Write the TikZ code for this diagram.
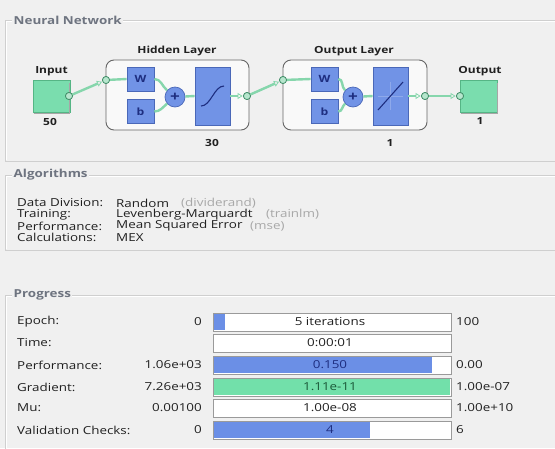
\documentclass[tikz,border=0pt]{standalone}
\usepackage{fontspec}
\setmainfont{Open Sans}[FakeStretch=1.22]
\usetikzlibrary{arrows.meta}
\definecolor{bg}{HTML}{F0F0F0}
\definecolor{framec}{HTML}{CFCFCF}
\definecolor{titlec}{HTML}{6E7480}
\definecolor{greenfill}{HTML}{7ADDAE}
\definecolor{greenedge}{HTML}{55B585}
\definecolor{bluefill}{HTML}{7193E6}
\definecolor{blueedge}{HTML}{4A68B8}
\definecolor{wire}{HTML}{86D6AC}
\definecolor{wireedge}{HTML}{4FAF80}
\definecolor{barblue}{HTML}{6B8FE6}
\definecolor{bargreen}{HTML}{72E0AA}
\definecolor{baredge}{HTML}{9A9A9A}
\definecolor{graytext}{HTML}{A8A8A8}
\definecolor{darkblue}{HTML}{1E2E80}
\definecolor{darkgreen}{HTML}{1C5A3A}
\definecolor{textc}{HTML}{202020}
\tikzset{
  paneltitle/.style={font=\bfseries\fontsize{11}{13}\selectfont, text=titlec, fill=bg, inner sep=1.5pt, anchor=west},
  panelframe/.style={draw=framec, line width=0.8pt},
  netlabel/.style={font=\bfseries\fontsize{9.8}{11}\selectfont, text=textc, inner sep=0pt},
  iobox/.style={draw=greenedge, fill=greenfill, line width=0.8pt, minimum width=37pt, minimum height=32pt, inner sep=0pt},
  layerbox/.style={draw=gray!80!black, fill=white!60!bg, line width=0.9pt, rounded corners=8pt},
  wbbox/.style={draw=blueedge, fill=bluefill, line width=0.7pt, minimum width=27pt, minimum height=24pt, inner sep=0pt, font=\bfseries\fontsize{10}{11}\selectfont, text=darkblue},
  actbox/.style={draw=blueedge, fill=bluefill, line width=0.7pt, minimum width=35pt, minimum height=58pt, inner sep=0pt},
  plusnode/.style={circle, draw=blueedge, fill=bluefill, line width=0.7pt, minimum size=20pt, inner sep=0pt, font=\bfseries\fontsize{14}{14}\selectfont, text=darkblue},
  port/.style={circle, draw=wireedge!80!black, fill=wire!60!white, line width=0.7pt, minimum size=7pt, inner sep=0pt},
  wirestyle/.style={draw=wire, line width=2.4pt},
  arrowwire/.style={wirestyle, -{Triangle[open, length=5pt, width=6pt, line width=0.8pt]}, shorten >=0.5pt},
  txt/.style={font=\fontsize{11}{12}\selectfont, text=textc, inner sep=0pt, anchor=west},
  gtxt/.style={font=\fontsize{11}{12}\selectfont, text=graytext, inner sep=0pt, anchor=west},
  rtxt/.style={font=\fontsize{11}{12}\selectfont, text=textc, inner sep=0pt, anchor=east},
  ctxt/.style={font=\fontsize{11}{12}\selectfont, text=textc, inner sep=0pt},
  bar/.style={draw=baredge, fill=white, line width=0.8pt},
  shade/.style={draw=gray!70, line width=1pt},
}
\begin{document}
\begin{tikzpicture}[x=1pt,y=-1pt]
\useasboundingbox (0,0) rectangle (555,448);
\fill[bg] (0,0) rectangle (555,448);

% ---------- panel frames ----------
\draw[panelframe] (560,20) -- (5,20) -- (5,161) -- (560,161);
\draw[white, line width=0.8pt] (560,21) -- (6,21) -- (6,160);
\node[paneltitle] (tNN) at (12,20) {Neural Network};

\draw[panelframe] (560,175) -- (5,175) -- (5,250) -- (560,250);
\draw[white, line width=0.8pt] (560,176) -- (6,176) -- (6,249);
\node[paneltitle] (tAlg) at (12,175) {Algorithms};

\draw[panelframe] (560,295) -- (5,295) -- (5,460);
\draw[white, line width=0.8pt] (560,296) -- (6,296) -- (6,460);
\node[paneltitle] (tProg) at (12,295) {Progress};

% ---------- network ----------
\node[iobox] (inbox) at (51.5,96) {};
\draw[shade] (inbox.south west) ++(1,1.2) -- ++(36,0) -- ++(0,-31);
\node[netlabel] (inlab) at (51.5,71) {Input};
\node[netlabel] (innum) at (50,122) {50};

\draw[layerbox] (106,60) rectangle (249,130);
\node[netlabel] (hidlab) at (177,51) {Hidden Layer};
\node[netlabel] (hidnum) at (212,143) {30};

\draw[layerbox] (283,60) rectangle (427,130);
\node[netlabel] (outlab) at (354,51) {Output Layer};
\node[netlabel] (outnum) at (390,143) {1};

\node[iobox] (outbox) at (479,96) {};
\draw[shade] (outbox.south west) ++(1,1.2) -- ++(36,0) -- ++(0,-31);
\node[netlabel] (oblab) at (480,71) {Output};
\node[netlabel] (obnum) at (480,121) {1};

\node[wbbox] (W1) at (140.5,79) {W};
\node[wbbox] (b1) at (140.5,111.5) {b};
\node[plusnode] (p1) at (175,97) {+};
\node[actbox] (a1) at (212.5,96) {};

\node[wbbox] (W2) at (324.5,79) {W};
\node[wbbox] (b2) at (324.5,111.5) {b};
\node[plusnode] (p2) at (353,97) {+};
\node[actbox] (a2) at (390.5,96) {};

% activation icons
\draw[darkblue, line width=1.1pt] (201,106) .. controls (211,106) and (214,86) .. (224,86);
\draw[bluefill!80!white, line width=0.4pt] (390.5,82) -- (390.5,110) (378,96) -- (403,96);
\draw[darkblue, line width=1.1pt] (378,110) -- (403,82);

% ports
\node[port] (c0) at (69,96) {};
\node[port] (c1) at (106,80) {};
\node[port] (c2) at (247,96) {};
\node[port] (c3) at (283,80) {};
\node[port] (c4) at (425,96) {};
\node[port] (c5) at (460,96) {};

% wires
\draw[arrowwire] (c0) -- (c1);
\draw[wirestyle] (c1) -- (W1.west);
\draw[wirestyle] (W1.east) to[out=0, in=140] (p1);
\draw[wirestyle] (b1.east) to[out=0, in=220] (p1);
\draw[wirestyle] (p1) -- (a1.west);
\draw[arrowwire] (a1.east) -- (c2);
\draw[arrowwire] (c2) -- (c3);
\draw[wirestyle] (c3) -- (W2.west);
\draw[wirestyle] (W2.east) to[out=0, in=140] (p2);
\draw[wirestyle] (b2.east) to[out=0, in=220] (p2);
\draw[wirestyle] (p2) -- (a2.west);
\draw[arrowwire] (a2.east) -- (c4);
\draw[arrowwire] (c4) -- (c5);
% redraw ports on top
\foreach \c in {c0,c1,c2,c3,c4,c5} \node[port] at (\c) {};

% ---------- algorithms ----------
\node[txt] (l1) at (17,203) {Data Division:};
\node[txt] (v1) at (116,203) {Random};
\node[gtxt] (g1) at (181,203) {(dividerand)};
\node[txt] (l2) at (17,214.5) {Training:};
\node[txt] (v2) at (116,214.5) {Levenberg-Marquardt};
\node[gtxt] (g2) at (266,214.5) {(trainlm)};
\node[txt] (l3) at (17,226) {Performance:};
\node[txt] (v3) at (116,226) {Mean Squared Error};
\node[gtxt] (g3) at (250,226) {(mse)};
\node[txt] (l4) at (17,237.5) {Calculations:};
\node[txt] (v4) at (116,237.5) {MEX};

% ---------- progress ----------
% Epoch
\node[txt] (pl1) at (17,322) {Epoch:};
\node[rtxt] (pa1) at (202,322) {0};
\draw[bar] (213,313) rectangle (451,331);
\fill[barblue] (214,314) rectangle (225,330);
\node[ctxt] (pv1) at (330,322) {5 iterations};
\node[txt] (pr1) at (456,322) {100};
% Time
\node[txt] (pl2) at (17,343) {Time:};
\draw[bar] (213,334.5) rectangle (451,352);
\node[ctxt] (pv2) at (330,343) {0:00:01};
% Performance
\node[txt] (pl3) at (17,365) {Performance:};
\node[rtxt] (pa3) at (202,365) {1.06e+03};
\draw[bar] (213,356) rectangle (451,374);
\fill[barblue] (214,357) rectangle (432,373);
\node[ctxt, text=darkblue] (pv3) at (330,365) {0.150};
\node[txt] (pr3) at (456,365) {0.00};
% Gradient
\node[txt] (pl4) at (17,387) {Gradient:};
\node[rtxt] (pa4) at (202,387) {7.26e+03};
\draw[bar] (213,378) rectangle (451,396);
\fill[bargreen] (214,379) rectangle (450,395);
\node[ctxt, text=darkgreen] (pv4) at (330,387) {1.11e-11};
\node[txt] (pr4) at (456,387) {1.00e-07};
% Mu
\node[txt] (pl5) at (17,408) {Mu:};
\node[rtxt] (pa5) at (202,408) {0.00100};
\draw[bar] (213,399) rectangle (451,417);
\node[ctxt] (pv5) at (330,408) {1.00e-08};
\node[txt] (pr5) at (456,408) {1.00e+10};
% Validation
\node[txt] (pl6) at (17,430) {Validation Checks:};
\node[rtxt] (pa6) at (202,430) {0};
\draw[bar] (213,421) rectangle (451,439);
\fill[barblue] (214,422) rectangle (370,438);
\node[ctxt, text=darkblue] (pv6) at (330,430) {4};
\node[txt] (pr6) at (456,430) {6};
\end{tikzpicture}
\end{document}
